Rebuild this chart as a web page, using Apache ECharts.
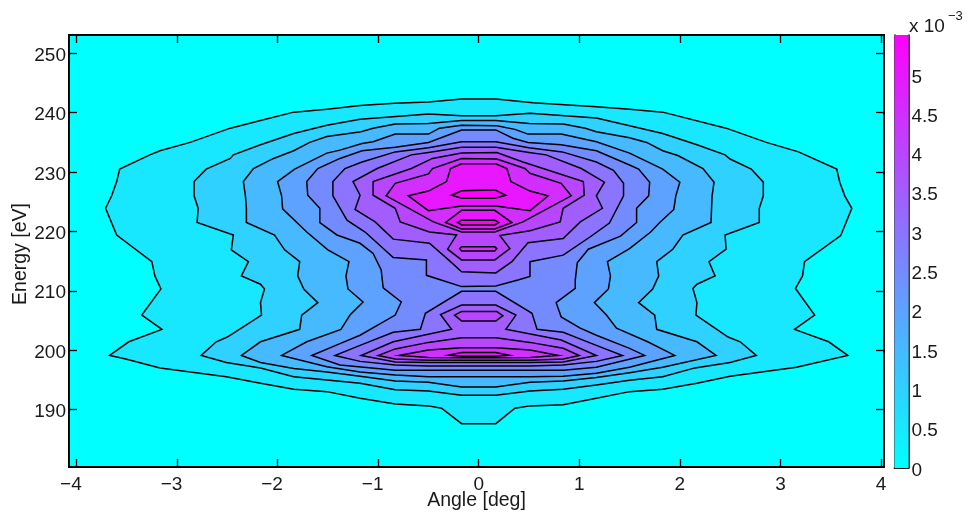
<!DOCTYPE html>
<html>
<head>
<meta charset="utf-8">
<style>html,body{margin:0;padding:0;background:#fff}#c{width:967px;height:517px}</style>
<script src="https://cdn.jsdelivr.net/npm/echarts@6/dist/echarts.min.js"></script>
</head>
<body>
<div id="c"></div>
<script>
const xTicks = [-4,-3,-2,-1,0,1,2,3,4];
const yTicks = [190,200,210,220,230,240,250];
const cbTicks = [0,0.5,1,1.5,2,2.5,3,3.5,4,4.5,5];
const xRange = [-4.074,4.03];
const yRange = [180.3,253.1];
const cbMax = 5.506;

const level05 = [[-3.71,223.9],[-3.65,226.0],[-3.60,228.4],[-3.57,230.5],[-3.27,232.9],[-3.17,233.6],[-2.87,235.0],[-2.47,237.4],[-2.17,238.7],[-1.84,240.1],[-1.51,240.6],[-1.18,241.2],[-.84,241.6],[-.5,241.8],[-.17,242.3],[.17,242.3],[.54,241.7],[1.17,241.0],[1.50,240.6],[1.83,240.1],[2.46,237.4],[2.86,235.0],[3.18,233.4],[3.56,230.5],[3.59,228.3],[3.64,226.0],[3.71,223.9],[3.60,219.3],[3.24,214.9],[3.22,212.5],[3.15,210.4],[3.34,205.9],[3.14,203.5],[3.48,201.4],[3.67,199.1],[3.16,197.1],[2.50,195.6],[2.17,194.4],[1.83,193.4],[1.50,193.0],[1.17,191.9],[.84,190.8],[.51,190.6],[.36,190.2],[.17,187.6],[-.17,187.6],[-.37,190.2],[-.50,190.6],[-.83,190.9],[-1.18,191.9],[-1.51,193.0],[-1.84,193.4],[-2.17,194.4],[-2.51,195.5],[-3.17,197.0],[-3.51,198.5],[-3.67,199.1],[-3.48,201.4],[-3.15,203.5],[-3.35,205.9],[-3.16,210.3],[-3.22,212.5],[-3.25,214.9],[-3.60,219.4]];

const level10 = [[-2.79,223.9],[-2.83,226.0],[-2.83,228.4],[-2.71,230.5],[-2.47,232.3],[-2.44,232.9],[-2.17,234.6],[-1.84,236.5],[-1.51,237.9],[-1.18,238.9],[-.50,239.8],[-.17,239.5],[.17,239.5],[.51,239.9],[1.17,239.1],[1.50,237.8],[1.83,236.5],[2.17,234.6],[2.45,232.9],[2.50,232.2],[2.71,230.5],[2.83,228.3],[2.83,226.0],[2.79,223.9],[2.79,221.5],[2.45,219.4],[2.46,217.0],[2.29,214.9],[2.35,212.5],[2.17,211.1],[2.13,210.4],[2.17,208.0],[2.16,205.9],[2.48,202.2],[2.60,201.4],[2.76,199.1],[2.50,197.9],[2.15,197.0],[1.83,195.5],[1.50,194.9],[1.17,194.1],[.84,193.4],[.51,193.1],[.17,192.4],[-.17,192.4],[-.50,193.1],[-.83,193.3],[-1.18,194.4],[-1.84,195.5],[-2.17,197.0],[-2.51,197.9],[-2.76,199.1],[-2.61,201.4],[-2.50,202.2],[-2.16,205.9],[-2.17,208.0],[-2.13,210.3],[-2.17,211.1],[-2.36,212.5],[-2.29,214.9],[-2.46,216.9],[-2.44,219.4],[-2.80,221.5]];

const level15 = [[-2.31,221.5],[-2.31,223.9],[-2.32,226.0],[-2.34,228.4],[-2.24,230.6],[-2.04,232.3],[-1.84,233.6],[-1.68,235.0],[-1.51,236.0],[-1.17,236.8],[-1.05,237.4],[-.83,238.1],[-.50,238.2],[-.17,238.7],[.17,238.7],[.50,238.2],[.84,238.1],[1.06,237.4],[1.17,236.8],[1.50,235.8],[1.67,235.0],[1.83,233.6],[1.98,232.8],[2.23,230.6],[2.34,228.3],[2.32,225.9],[2.31,221.5],[2.03,219.4],[1.93,217.0],[1.77,214.9],[1.79,212.5],[1.73,210.3],[1.59,208.0],[1.75,205.9],[1.77,203.5],[2.17,201.4],[2.36,199.1],[1.83,197.1],[1.50,196.2],[1.17,195.4],[.84,194.8],[.51,194.6],[.17,193.8],[-.17,193.8],[-.50,194.6],[-.83,194.8],[-1.18,195.6],[-1.51,196.3],[-1.84,196.9],[-2.17,197.9],[-2.36,199.1],[-2.17,201.4],[-1.78,203.5],[-1.76,205.9],[-1.60,208.0],[-1.74,210.3],[-1.80,212.5],[-1.78,214.9],[-1.93,216.9],[-2.03,219.4]];

const level20 = [[-1.95,223.8],[-1.96,226.0],[-2.00,228.4],[-1.83,230.5],[-1.51,233.2],[-1.38,233.7],[-1.16,234.8],[-1.05,235.1],[-.83,236.4],[-.50,236.4],[-.39,237.4],[-.17,237.9],[.18,237.8],[.36,237.2],[.49,236.4],[.82,236.4],[1.17,235.1],[1.50,233.2],[1.83,230.5],[2.00,228.3],[1.96,226.0],[1.94,223.7],[1.80,221.5],[1.71,219.9],[1.50,217.1],[1.28,214.9],[1.31,212.5],[1.29,210.3],[1.15,208.0],[1.27,205.9],[1.37,203.7],[1.68,201.4],[1.95,199.1],[1.50,197.1],[1.17,196.1],[.84,195.6],[.51,195.5],[.17,195.5],[-.17,195.5],[-.50,195.5],[-.83,195.8],[-1.18,196.3],[-1.51,197.2],[-1.96,199.1],[-1.71,201.4],[-1.37,203.5],[-1.28,205.9],[-1.15,208.1],[-1.30,210.3],[-1.32,212.5],[-1.29,214.9],[-1.50,216.9],[-1.71,219.9]];

const level25 = [[-1.58,221.5],[-1.58,223.9],[-1.70,226.1],[-1.71,228.4],[-1.60,230.6],[-1.38,232.3],[-1.16,233.6],[-.83,234.2],[-.50,235.0],[-.17,237.1],[.17,237.1],[.34,235.7],[.49,235.0],[.82,234.6],[1.17,233.6],[1.50,231.2],[1.59,230.5],[1.70,228.3],[1.69,226.0],[1.57,223.9],[1.57,221.5],[1.41,219.2],[1.09,217.0],[.98,214.7],[.96,211.8],[.96,210.4],[.77,208.0],[.82,205.6],[1.01,203.7],[1.17,202.5],[1.50,200.3],[1.65,199.1],[1.17,197.1],[.84,196.6],[.51,196.6],[.17,196.6],[-.17,196.6],[-.50,196.6],[-.83,196.6],[-1.38,197.5],[-1.66,199.1],[-1.38,201.1],[-1.18,202.5],[-.83,205.9],[-.77,208.1],[-.95,210.5],[-.97,213.5],[-1.05,216.3],[-1.18,218.0],[-1.41,219.4]];

const level30upper = [[-1.45,226.0],[-1.45,228.4],[-1.33,230.6],[-1.16,231.7],[-.83,233.4],[-.50,234.1],[-.17,235.1],[.17,235.1],[.50,234.1],[.83,233.4],[1.17,231.7],[1.34,230.3],[1.44,228.1],[1.44,226.0],[1.30,221.4],[1.11,219.1],[.84,216.0],[.51,214.9],[.51,212.4],[.39,211.8],[.17,210.8],[-.17,210.7],[-.39,211.9],[-.52,212.6],[-.52,215.2],[-.85,215.6],[-1.13,219.9],[-1.31,221.9]];
const level30lower = [[-.17,209.9],[.17,209.9],[.53,206.2],[.58,203.5],[.84,203.0],[1.17,200.8],[1.43,199.1],[1.17,198.1],[.84,197.5],[.51,197.3],[.17,197.3],[-.17,197.3],[-.50,197.3],[-.83,197.5],[-1.18,198.1],[-1.43,199.1],[-1.18,200.8],[-.85,203.0],[-.58,203.5],[-.53,206.2]];

const level35upper = [[-1.23,223.7],[-1.18,226.1],[-1.25,228.4],[-1.01,230.6],[-.67,232.9],[-.50,233.3],[-.17,234.2],[.17,234.2],[.50,233.3],[.67,232.9],[1.02,230.6],[1.25,228.3],[1.17,226.0],[1.23,223.9],[1.01,221.6],[.84,218.8],[.49,218.1],[.33,214.9],[.17,213.0],[-.17,213.2],[-.30,215.2],[-.49,218.0],[-.85,218.7],[-1.03,221.6]];
const level35lower = [[-.17,207.6],[.17,207.6],[.37,205.9],[.27,203.5],[.82,201.7],[1.17,199.1],[.84,198.0],[.51,197.9],[.17,197.9],[-.17,197.9],[-.50,197.9],[-.83,198.0],[-1.17,199.1],[-.85,201.4],[-.27,203.5],[-.38,206.0]];

const level40upper = [[-1.05,226.1],[-1.05,228.4],[-.67,230.6],[-.46,232.3],[-.17,233.2],[.18,233.3],[.44,231.7],[1.04,228.4],[1.05,226.1],[.84,223.9],[.81,221.6],[.51,220.1],[.21,219.3],[.31,217.1],[.16,215.2],[-.17,215.2],[-.31,217.0],[-.22,219.4],[-.49,219.9],[-.78,221.6],[-.83,223.9]];
const level40middle = [[-.17,206.5],[.18,206.5],[.24,205.8],[.17,204.9],[-.17,204.9],[-.24,205.9]];
const level40lower = [[-.17,202.1],[.17,202.1],[.51,201.3],[.84,200.3],[1.00,199.1],[.84,198.5],[.51,198.3],[.17,198.3],[-.17,198.3],[-.50,198.3],[-.83,198.5],[-1.00,199.1],[-.83,200.2],[-.50,201.3]];

const level45upper = [[-.92,226.0],[-.83,228.1],[-.50,229.7],[-.46,230.6],[-.17,232.3],[.18,232.2],[.46,230.6],[.51,229.8],[.82,228.1],[.92,226.0],[.44,221.6],[.16,219.9],[-.17,219.9],[-.45,221.6]];
const level45small = [[-.17,217.4],[.16,217.4],[.18,217.1],[.16,216.7],[-.17,216.7],[-.19,217.1]];
const level45lower = [[-.17,200.4],[.17,200.4],[.51,200.0],[.79,199.1],[.51,198.75],[.17,198.7],[-.17,198.7],[-.50,198.75],[-.79,199.1],[-.50,200.0]];

const level50upper = [[-.70,226.0],[-.50,226.8],[-.32,228.4],[-.28,230.6],[-.17,231.4],[.17,231.4],[.28,230.6],[.32,228.4],[.51,226.8],[.69,226.0],[.51,223.5],[.17,224.3],[-.17,224.3],[-.50,223.5]];
const level50middle = [[-.17,223.55],[.16,223.55],[.33,221.5],[.16,220.4],[-.17,220.4],[-.33,221.5]];
const level50lower = [[-.17,199.6],[.17,199.6],[.30,199.15],[.17,198.98],[-.17,198.98],[-.30,199.15]];

const level55upper = [[-.17,226.86],[.16,227.0],[.27,226.1],[.16,225.6],[-.17,225.6],[-.27,226.1]];
const level55middle = [[-.17,221.9],[.16,221.9],[.20,221.5],[.16,221.1],[-.17,221.1],[-.21,221.5]];

const contourLevels = [0.5,1,1.5,2,2.5,3,3.5,4,4.5,5,5.5];
const contourPolygons = [
  [level05],[level10],[level15],[level20],[level25],
  [level30upper,level30lower],
  [level35upper,level35lower],
  [level40upper,level40middle,level40lower],
  [level45upper,level45small,level45lower],
  [level50upper,level50middle,level50lower],
  [level55upper,level55middle]
];

const cool = v => {
  const t = Math.min(1, v / 5.5);
  return 'rgb(' + Math.round(255*t) + ',' + Math.round(255*(1-t)) + ',255)';
};
const flat = [];
contourPolygons.forEach((polys,i) => polys.forEach(p => flat.push({poly:p, level:contourLevels[i]})));

const textColor = '#1a1a1a';
const lineCol = '#000';
const fontName = 'Liberation Sans';
const tickRich = {
  n:{fontFamily:fontName,fontSize:19,color:textColor,padding:[0,11,0,0]},
  p:{fontFamily:fontName,fontSize:19,color:textColor}
};
const xFmt = v => v < 0 ? '{n|\u2212' + Math.abs(v) + '}' : '{p|' + v + '}';
const vRich = {v:{fontFamily:fontName,fontSize:19,color:textColor,padding:[5,0,0,0]}};
const vFmt = v => '{v|' + v + '}';

const chart = echarts.init(document.getElementById('c'), null, {renderer:'canvas'});
chart.setOption({
  animation:false,
  backgroundColor:'#fff',
  title:{
    left:904, top:2,
    text:'{a|x 10}{b|\u22123}',
    textStyle:{fontWeight:'normal',rich:{
      a:{fontFamily:fontName,fontSize:19,fontWeight:'normal',color:textColor,lineHeight:30,padding:[10,0,0,0]},
      b:{fontFamily:fontName,fontSize:13,fontWeight:'normal',color:textColor,lineHeight:30,padding:[0,0,12,3]}
    }}
  },
  grid:[
    {left:69,top:35,width:815,height:432,show:true,backgroundColor:'#00ffff',borderWidth:0,containLabel:false,outerBoundsMode:'none'},
    {left:894.5,top:35,width:14,height:433,show:false,containLabel:false,outerBoundsMode:'none'}
  ],
  xAxis:[
    {gridIndex:0,type:'value',min:xRange[0],max:xRange[1],position:'bottom',
     name:'Angle [deg]',nameLocation:'middle',nameGap:24,nameMoveOverlap:false,
     nameTextStyle:{fontFamily:fontName,fontSize:19.5,color:textColor},
     axisLine:{show:true,onZero:false,lineStyle:{color:lineCol,width:2}},
     axisTick:{show:true,inside:true,length:8,lineStyle:{color:lineCol,width:1.3},customValues:xTicks},
     axisLabel:{show:true,margin:8,formatter:xFmt,customValues:xTicks,rich:tickRich},
     splitLine:{show:false}},
    {gridIndex:0,type:'value',min:xRange[0],max:xRange[1],position:'top',
     axisLine:{show:true,onZero:false,lineStyle:{color:lineCol,width:2}},
     axisTick:{show:true,inside:true,length:8,lineStyle:{color:lineCol,width:1.3},customValues:xTicks},
     axisLabel:{show:false},splitLine:{show:false}},
    {gridIndex:1,type:'category',data:['c'],position:'bottom',
     axisLine:{show:true,lineStyle:{color:lineCol,width:1.5}},axisTick:{show:false},axisLabel:{show:false}},
    {gridIndex:1,type:'category',data:['c'],position:'top',
     axisLine:{show:true,lineStyle:{color:lineCol,width:1.5}},axisTick:{show:false},axisLabel:{show:false}}
  ],
  yAxis:[
    {gridIndex:0,type:'value',min:yRange[0],max:yRange[1],position:'left',
     name:'Energy [eV]',nameLocation:'middle',nameGap:38,nameMoveOverlap:false,
     nameTextStyle:{fontFamily:fontName,fontSize:19.5,color:textColor,padding:[0,6,0,0]},
     axisLine:{show:true,onZero:false,lineStyle:{color:lineCol,width:2}},
     axisTick:{show:true,inside:true,length:8,lineStyle:{color:lineCol,width:1.3},customValues:yTicks},
     axisLabel:{show:true,margin:3,customValues:yTicks,formatter:vFmt,rich:vRich},
     splitLine:{show:false}},
    {gridIndex:0,type:'value',min:yRange[0],max:yRange[1],position:'right',
     axisLine:{show:true,onZero:false,lineStyle:{color:lineCol,width:2}},
     axisTick:{show:true,inside:true,length:8,lineStyle:{color:lineCol,width:1.3},customValues:yTicks},
     axisLabel:{show:false},splitLine:{show:false}},
    {gridIndex:1,type:'value',min:0,max:cbMax,position:'right',
     axisLine:{show:true,onZero:false,lineStyle:{color:lineCol,width:1.5}},
     axisTick:{show:true,inside:true,length:4,lineStyle:{color:'#222',width:1},customValues:cbTicks},
     axisLabel:{show:true,margin:3,customValues:cbTicks,formatter:vFmt,rich:vRich},
     splitLine:{show:false}},
    {gridIndex:1,type:'value',min:0,max:cbMax,position:'left',
     axisLine:{show:true,onZero:false,lineStyle:{color:lineCol,width:1.5}},
     axisTick:{show:true,inside:true,length:4,lineStyle:{color:'#222',width:1},customValues:cbTicks},
     axisLabel:{show:false},splitLine:{show:false}}
  ],
  series:[
    {type:'custom',xAxisIndex:0,yAxisIndex:0,clip:true,
     coordinateSystem:'cartesian2d',
     data:flat.map((f,i)=>[f.poly[0][0],f.poly[0][1],i]),
     encode:{x:0,y:1},
     renderItem:function(params,api){
       const f = flat[api.value(2)];
       return {type:'polygon',
         shape:{points:f.poly.map(p=>api.coord(p))},
         style:{fill:cool(f.level),stroke:'#000',lineWidth:1.5,lineJoin:'miter'}};
     },
     silent:true,z:2},
    {type:'bar',xAxisIndex:2,yAxisIndex:2,data:[cbMax],barWidth:'100%',silent:true,
     itemStyle:{color:new echarts.graphic.LinearGradient(0,0,0,1,[
       {offset:0,color:'rgb(255,0,255)'},{offset:1,color:'rgb(0,255,255)'}])},z:1}
  ]
});
</script>
</body>
</html>
